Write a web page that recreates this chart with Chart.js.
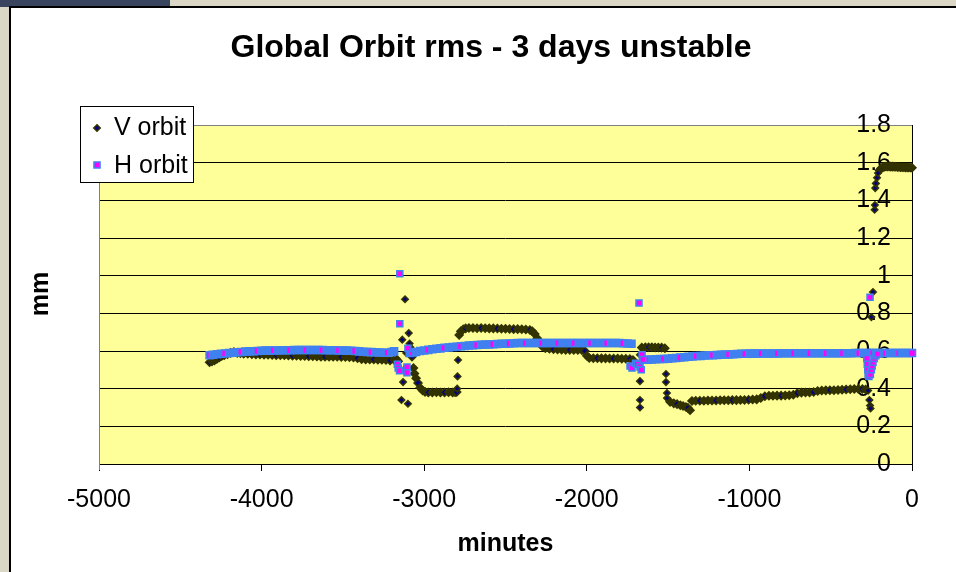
<!DOCTYPE html>
<html>
<head>
<meta charset="utf-8">
<title>Global Orbit rms - 3 days unstable</title>
<script src="https://cdn.jsdelivr.net/npm/chart.js@4.4.1/dist/chart.umd.min.js"></script>
<style>
    html, body { margin: 0; padding: 0; }
    body {
        width: 956px; height: 572px; overflow: hidden; position: relative;
        background: #dad7c7;
    }
    #strip { position: absolute; left: 0; top: 0; width: 170px; height: 7px; background: #39445f; }
    #panel {
        position: absolute; left: 9px; top: 6px; right: 0; bottom: 0;
        background: #fff; border-left: 2px solid #000; border-top: 2px solid #000;
    }
    #chart { position: absolute; left: 0; top: 0; }
</style>
</head>
<body>
<div id="strip"></div>
<div id="panel"></div>
<canvas id="chart" width="956" height="572"></canvas>
<script>
// Global orbit rms, last 3 days

const titleText = 'Global Orbit rms - 3 days unstable';
const xTitle = 'minutes';
const yTitle = 'mm';
const seriesNames = ['V orbit', 'H orbit'];
const xTicks = [-5000, -4000, -3000, -2000, -1000, 0];
const yTicks = [0, 0.2, 0.4, 0.6, 0.8, 1, 1.2, 1.4, 1.6, 1.8];

// V orbit - continuous trace
const vMinutes = [
    -4320, -4305, -4290, -4275, -4260, -4245, -4230, -4210, -4190, -4170, -4150, -4130, -4110,
    -4085, -4060, -4035, -4010, -3985, -3960, -3935, -3910, -3885, -3860,
    -3835, -3810, -3785, -3760, -3735, -3710, -3685, -3660, -3635, -3610,
    -3585, -3560, -3535, -3510, -3485, -3460, -3435, -3410, -3385, -3360,
    -3335, -3310, -3285, -3260, -3235, -3210, -3185, -3170, -3160,
    -3075, -3066, -3060, -3050, -3038, -3025, -3010, -2995, -2975, -2950, -2925, -2900, -2875, -2850, -2825, -2810, -2800,
    -2785, -2775, -2760, -2745, -2725, -2700, -2675, -2650, -2625, -2600, -2575, -2550, -2525,
    -2500, -2475, -2450, -2425, -2400, -2375, -2350, -2335, -2320, -2305, -2290, -2275,
    -2255, -2230, -2205, -2180, -2155, -2130, -2105, -2080, -2055, -2030, -2012, -2000,
    -1985, -1960, -1935, -1910, -1885, -1860, -1835, -1810, -1785, -1760, -1735, -1716,
    -1662, -1640, -1620, -1600, -1580, -1560, -1540, -1520,
    -1488, -1465, -1445, -1425, -1408, -1390, -1378, -1365, -1353,
    -1330, -1305, -1280, -1255, -1230, -1205, -1180, -1155, -1130, -1105,
    -1080, -1055, -1030, -1005, -980, -955, -930, -905, -880, -855,
    -830, -805, -780, -755, -730, -705, -680, -655, -630, -605,
    -580, -555, -530, -505, -480, -455, -430, -405, -380, -355,
    -330, -305, -285,
    -200, -190, -180, -170, -160, -150, -140, -130, -120, -110, -100,
    -90, -80, -70, -60, -50, -40, -30, -20, -10, 0
];
const vOrbit = [
    0.540, 0.545, 0.550, 0.558, 0.566, 0.573, 0.578, 0.583, 0.590, 0.594, 0.590, 0.588, 0.586,
    0.585, 0.583, 0.582, 0.581, 0.580, 0.580, 0.579, 0.578, 0.578, 0.577,
    0.576, 0.575, 0.575, 0.574, 0.573, 0.572, 0.572, 0.571, 0.570, 0.570,
    0.570, 0.569, 0.569, 0.568, 0.568, 0.567, 0.565, 0.562, 0.557, 0.555,
    0.555, 0.555, 0.554, 0.554, 0.552, 0.550, 0.553, 0.556, 0.545,
    0.570, 0.510, 0.480, 0.455, 0.430, 0.405, 0.390, 0.383, 0.380, 0.380, 0.381, 0.380, 0.380, 0.381, 0.380, 0.381, 0.382,
    0.685, 0.705, 0.715, 0.720, 0.722, 0.722, 0.721, 0.722, 0.721, 0.720, 0.720, 0.719, 0.718,
    0.718, 0.717, 0.716, 0.716, 0.715, 0.714, 0.712, 0.705, 0.690, 0.668, 0.645, 0.625,
    0.615, 0.612, 0.610, 0.608, 0.607, 0.606, 0.606, 0.605, 0.605, 0.604, 0.600, 0.575,
    0.563, 0.562, 0.562, 0.561, 0.561, 0.560, 0.560, 0.560, 0.559, 0.559, 0.558, 0.552,
    0.618, 0.620, 0.620, 0.620, 0.619, 0.619, 0.618, 0.615,
    0.330, 0.322, 0.318, 0.312, 0.308, 0.303, 0.298, 0.285, 0.335,
    0.336, 0.336, 0.336, 0.337, 0.337, 0.337, 0.338, 0.338, 0.338, 0.339,
    0.339, 0.340, 0.340, 0.341, 0.342, 0.343, 0.350, 0.360, 0.362, 0.362,
    0.363, 0.363, 0.364, 0.365, 0.368, 0.376, 0.379, 0.380, 0.380, 0.382,
    0.388, 0.390, 0.391, 0.392, 0.392, 0.393, 0.394, 0.396, 0.397, 0.398,
    0.398, 0.398, 0.396,
    1.560, 1.570, 1.575, 1.578, 1.580, 1.580, 1.580, 1.579, 1.579, 1.578, 1.578,
    1.577, 1.577, 1.576, 1.576, 1.576, 1.575, 1.575, 1.574, 1.574, 1.573
];

// V orbit - isolated readings around the jumps
const vSpikeMinutes = [
    -3140, -3135, -3130, -3125, -3118, -3110, -3100, -3095, -3090, -3085,
    -2797, -2795, -2792,
    -1673, -1673, -1673, -1673, -1673, -1513, -1513, -1507, -1507,
    -270, -262, -258, -255, -258, -250, -240, -230, -228, -226, -222, -215, -209
];
const vSpikeOrbit = [
    0.340, 0.660, 0.435, 0.500, 0.875, 0.590, 0.320, 0.695, 0.640, 0.620,
    0.400, 0.465, 0.552,
    0.580, 0.536, 0.440, 0.340, 0.300, 0.478, 0.435, 0.377, 0.350,
    0.390, 0.340, 0.310, 0.295, 0.590, 0.780, 0.913, 1.350, 1.375, 1.465, 1.490, 1.520, 1.545
];

// H orbit - continuous trace
const hMinutes = [
    -4320, -4300, -4275, -4250, -4225, -4200, -4175, -4150, -4125, -4100,
    -4075, -4050, -4025, -4000, -3975, -3950, -3925, -3900, -3875, -3850,
    -3825, -3800, -3775, -3750, -3725, -3700, -3675, -3650, -3625, -3600,
    -3575, -3550, -3525, -3500, -3475, -3450, -3425, -3400, -3375, -3350,
    -3325, -3300, -3275, -3250, -3225, -3200, -3185,
    -3090, -3070, -3050, -3025, -3000, -2975, -2950, -2925, -2900, -2875,
    -2850, -2825, -2800, -2775, -2750, -2725, -2700, -2675, -2650, -2625,
    -2600, -2575, -2550, -2525, -2500, -2475, -2450, -2425, -2400, -2375,
    -2350, -2325, -2300, -2275, -2250, -2225, -2200, -2175, -2150, -2125,
    -2100, -2075, -2050, -2025, -2000, -1975, -1950, -1925, -1900, -1875,
    -1850, -1825, -1800, -1775, -1750, -1725,
    -1650, -1625, -1600, -1575, -1550, -1525, -1500, -1475, -1450, -1425,
    -1400, -1375, -1350, -1325, -1300, -1275, -1250, -1225, -1200, -1175,
    -1150, -1125, -1100, -1075, -1050, -1025, -1000, -975, -950, -925,
    -900, -875, -850, -825, -800, -775, -750, -725, -700, -675,
    -650, -625, -600, -575, -550, -525, -500, -475, -450, -425,
    -400, -375, -350, -325, -300,
    -280, -260, -240, -220, -200, -180, -160, -140, -120, -100, -80, -60, -40, -20, 0
];
const hOrbit = [
    0.578, 0.580, 0.583, 0.585, 0.587, 0.589, 0.591, 0.593, 0.595, 0.597,
    0.598, 0.599, 0.600, 0.601, 0.602, 0.602, 0.603, 0.603, 0.604, 0.604,
    0.604, 0.605, 0.605, 0.605, 0.605, 0.605, 0.605, 0.605, 0.605, 0.604,
    0.604, 0.604, 0.603, 0.603, 0.602, 0.601, 0.600, 0.598, 0.596, 0.595,
    0.594, 0.593, 0.592, 0.591, 0.591, 0.594, 0.598,
    0.590, 0.592, 0.595, 0.600, 0.603, 0.606, 0.609, 0.612, 0.614, 0.617,
    0.619, 0.621, 0.623, 0.625, 0.627, 0.629, 0.630, 0.632, 0.633, 0.634,
    0.635, 0.636, 0.637, 0.638, 0.639, 0.640, 0.641, 0.642, 0.642, 0.642,
    0.642, 0.642, 0.642, 0.642, 0.642, 0.642, 0.642, 0.642, 0.642, 0.642,
    0.642, 0.642, 0.642, 0.642, 0.642, 0.642, 0.642, 0.642, 0.642, 0.642,
    0.642, 0.642, 0.642, 0.641, 0.640, 0.638,
    0.553, 0.554, 0.555, 0.556, 0.557, 0.558, 0.559, 0.561, 0.563, 0.565,
    0.567, 0.569, 0.571, 0.573, 0.574, 0.576, 0.577, 0.578, 0.579, 0.580,
    0.581, 0.582, 0.583, 0.584, 0.585, 0.585, 0.586, 0.586, 0.586, 0.587,
    0.587, 0.587, 0.587, 0.587, 0.588, 0.588, 0.588, 0.588, 0.588, 0.588,
    0.588, 0.588, 0.588, 0.588, 0.588, 0.588, 0.588, 0.588, 0.588, 0.588,
    0.588, 0.588, 0.589, 0.589, 0.589,
    0.589, 0.589, 0.589, 0.589, 0.589, 0.589, 0.589, 0.589, 0.589, 0.589, 0.589, 0.589, 0.589, 0.589, 0.589
];

// H orbit - isolated readings around the jumps
const hSpikeMinutes = [
    -3150, -3150, -3165, -3160, -3152, -3106, -3106, -3100,
    -1679, -1734, -1722, -1700, -1690, -1673, -1665, -1660, -1655,
    -278, -275, -272, -270, -265, -258, -256, -250, -245, -240, -232, -222, -212
];
const hSpikeOrbit = [
    1.010, 0.745, 0.530, 0.510, 0.495, 0.515, 0.485, 0.615,
    0.855, 0.520, 0.510, 0.535, 0.530, 0.515, 0.500, 0.580, 0.555,
    0.560, 0.530, 0.500, 0.475, 0.465, 0.885, 0.475, 0.500, 0.520, 0.540, 0.560, 0.575, 0.584
];

const FONT = "'Liberation Sans', Arial, sans-serif";
const V_EDGE = '#333300';
const V_FILL = '#000080';
const H_EDGE = '#4080f0';
const H_FILL = '#ff00ff';

Chart.defaults.font.family = FONT;
Chart.defaults.color = '#000';

function points(xs, ys) {
    return xs.map((x, i) => ({ x: x, y: ys[i] }));
}

// yellow plot area + grey left edge, like the Excel plot area
const plotBackground = {
    id: 'plotBackground',
    beforeDraw(chart) {
        const { ctx, chartArea: a } = chart;
        ctx.save();
        ctx.fillStyle = '#ffff99';
        ctx.fillRect(a.left, a.top, a.right - a.left, a.bottom - a.top);
        ctx.restore();
    },
    beforeDatasetsDraw(chart) {
        const { ctx, chartArea: a } = chart;
        ctx.save();
        ctx.strokeStyle = '#808080';
        ctx.lineWidth = 1;
        ctx.beginPath();
        ctx.moveTo(Math.round(a.left) + 0.5, a.top);
        ctx.lineTo(Math.round(a.left) + 0.5, a.bottom + 6);
        ctx.stroke();
        ctx.restore();
    }
};

function drawMarker(ctx, style, x, y, edge, fill) {
    ctx.beginPath();
    if (style === 'rectRot') {
        ctx.moveTo(x, y - 3.2);
        ctx.lineTo(x + 3.2, y);
        ctx.lineTo(x, y + 3.2);
        ctx.lineTo(x - 3.2, y);
    } else {
        ctx.rect(x - 3, y - 3, 6, 6);
    }
    ctx.closePath();
    ctx.fillStyle = fill;
    ctx.fill();
    ctx.lineWidth = 1.6;
    ctx.strokeStyle = edge;
    ctx.stroke();
}

// title, rotated y title and the boxed legend overlapping the plot corner
const chartText = {
    id: 'chartText',
    afterDraw(chart) {
        const ctx = chart.ctx;
        ctx.save();
        ctx.fillStyle = '#000';
        ctx.textAlign = 'center';
        ctx.textBaseline = 'middle';
        ctx.font = 'bold 32px ' + FONT;
        ctx.fillText(titleText, 491, 48);

        ctx.save();
        ctx.translate(41, 294);
        ctx.rotate(-Math.PI / 2);
        ctx.font = 'bold 25px ' + FONT;
        ctx.fillText(yTitle, 0, 0);
        ctx.restore();

        // legend box
        ctx.fillStyle = '#fff';
        ctx.fillRect(80.5, 106.5, 113, 76);
        ctx.strokeStyle = '#000';
        ctx.lineWidth = 1;
        ctx.strokeRect(80.5, 106.5, 113, 76);

        drawMarker(ctx, 'rectRot', 97, 128, V_EDGE, V_FILL);
        drawMarker(ctx, 'rect', 97, 165, H_EDGE, H_FILL);

        ctx.fillStyle = '#000';
        ctx.textAlign = 'left';
        ctx.textBaseline = 'alphabetic';
        ctx.font = '25px ' + FONT;
        ctx.fillText(seriesNames[0], 114, 135);
        ctx.fillText(seriesNames[1], 114, 173);
        ctx.restore();
    }
};

const vStyle = {
    pointStyle: 'rectRot',
    pointRadius: 3.2,
    pointHoverRadius: 3.2,
    pointBorderWidth: 1.6,
    pointBorderColor: V_EDGE,
    showLine: false,
    clip: false
};
const hStyle = {
    pointStyle: 'rect',
    pointRadius: 4.2,
    pointHoverRadius: 4.2,
    pointBorderWidth: 1.6,
    pointBorderColor: H_EDGE,
    showLine: false,
    clip: false
};

new Chart(document.getElementById('chart'), {
    type: 'scatter',
    data: {
        // H drawn on top of V, as in the original
        datasets: [
            Object.assign({}, hStyle, { label: seriesNames[1], data: points(hSpikeMinutes, hSpikeOrbit),
                pointBackgroundColor: H_FILL }),
            Object.assign({}, hStyle, { label: seriesNames[1], data: points(hMinutes, hOrbit),
                pointRadius: 4.9, pointHoverRadius: 4.9,
                pointBackgroundColor: c => (c.dataIndex % 4 ? H_EDGE : H_FILL) }),
            Object.assign({}, vStyle, { label: seriesNames[0], data: points(vSpikeMinutes, vSpikeOrbit),
                pointBackgroundColor: V_FILL }),
            Object.assign({}, vStyle, { label: seriesNames[0], data: points(vMinutes, vOrbit),
                pointRadius: 3.9, pointHoverRadius: 3.9,
                pointBackgroundColor: c => (c.dataIndex % 4 ? V_EDGE : V_FILL) })
        ]
    },
    options: {
        responsive: false,
        animation: false,
        events: [],
        layout: {
            padding: { left: 99, right: 44, top: 125, bottom: 13 }
        },
        plugins: {
            legend: { display: false },
            tooltip: { enabled: false },
            title: { display: false }
        },
        scales: {
            x: {
                type: 'linear',
                position: 'bottom',
                min: xTicks[0],
                max: xTicks[xTicks.length - 1],
                afterBuildTicks: s => { s.ticks = xTicks.map(v => ({ value: v })); },
                grid: {
                    drawOnChartArea: false,
                    drawTicks: true,
                    tickLength: 7,
                    color: '#000'
                },
                border: { color: '#000' },
                ticks: {
                    padding: 14,
                    maxRotation: 0,
                    font: { size: 25 },
                    color: '#000',
                    callback: v => String(v)
                },
                title: {
                    display: true,
                    text: xTitle,
                    font: { size: 25, weight: 'bold' },
                    color: '#000',
                    padding: { top: 0, bottom: 0 }
                }
            },
            y: {
                type: 'linear',
                position: 'right',
                min: yTicks[0],
                max: yTicks[yTicks.length - 1],
                afterBuildTicks: s => { s.ticks = yTicks.map(v => ({ value: v })); },
                // labels sit inside the plot, left of the axis at x = 0
                afterFit: s => { s.width = 0; },
                grid: {
                    drawTicks: false,
                    color: c => (c.tick && c.tick.value > 1.79 ? '#808080' : '#000')
                },
                border: { color: '#000' },
                ticks: {
                    mirror: true,
                    padding: -21,
                    font: { size: 25 },
                    color: '#000',
                    callback: v => String(Number(v.toFixed(1)))
                }
            }
        }
    },
    plugins: [plotBackground, chartText]
});
</script>
</body>
</html>
